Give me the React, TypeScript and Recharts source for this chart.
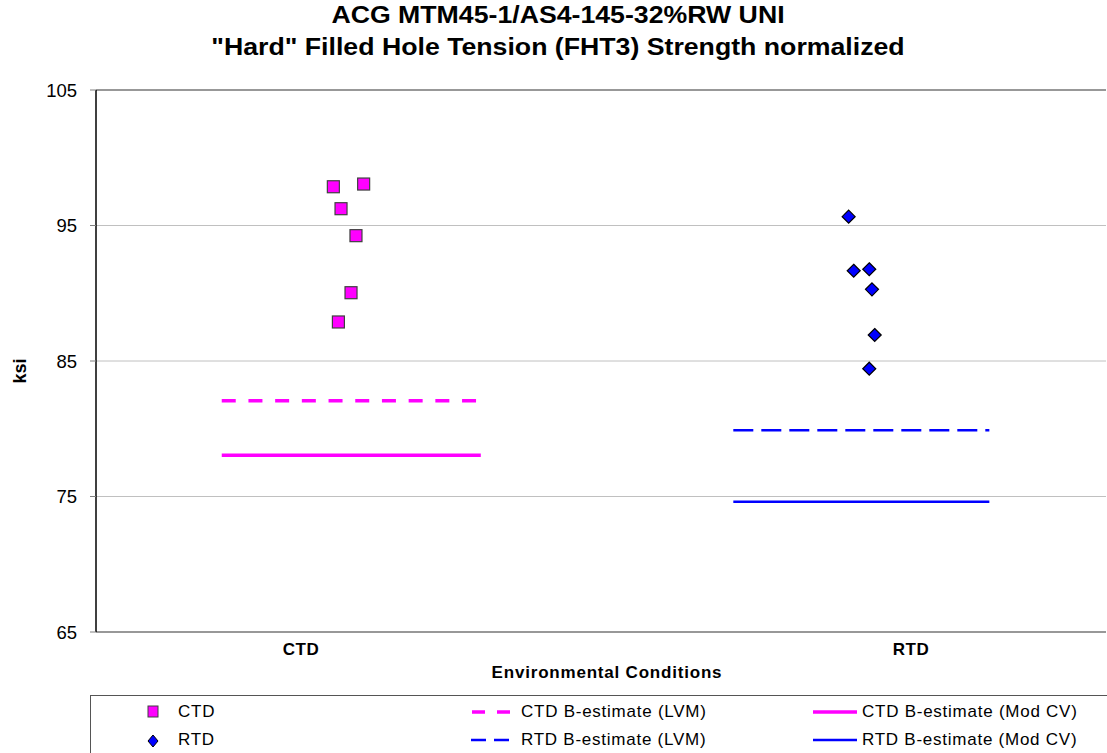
import React from "react";
import {
  ScatterChart,
  Scatter,
  XAxis,
  YAxis,
  CartesianGrid,
  ReferenceLine,
  Label,
} from "recharts";

// ---- data ----
const categories = ["CTD", "RTD"];
const categoryTicks = [20.3, 80.7];
const yTicks = [65, 75, 85, 95, 105];

const ctdX = [23.5, 26.5, 24.26, 25.74, 25.25, 24.0];
const ctdY = [97.86, 98.06, 96.24, 94.25, 90.04, 87.88];
const rtdX = [74.52, 75.02, 76.56, 76.83, 77.1, 76.56];
const rtdY = [95.65, 91.66, 91.77, 90.29, 86.92, 84.43];

const ctdLineX = [12.45, 38.1];
const rtdLineX = [63.1, 88.45];
const ctdLVM = 82.07;
const ctdModCV = 78.04;
const rtdLVM = 79.89;
const rtdModCV = 74.62;

const legendLabels = [
  "CTD",
  "RTD",
  "CTD B-estimate (LVM)",
  "RTD B-estimate (LVM)",
  "CTD B-estimate (Mod CV)",
  "RTD B-estimate (Mod CV)",
];

const MAGENTA = "#FF00FF";
const BLUE = "#0000FF";
const FONT = "'Liberation Sans', Arial, sans-serif";

const toPoints = (xs: number[], ys: number[]) => xs.map((x, i) => ({ x, y: ys[i] }));
const hLine = (xs: number[], y: number) => xs.map((x) => ({ x, y }));

const ctdData = toPoints(ctdX, ctdY);
const rtdData = toPoints(rtdX, rtdY);
const ctdLVMData = hLine(ctdLineX, ctdLVM);
const ctdModData = hLine(ctdLineX, ctdModCV);
const rtdLVMData = hLine(rtdLineX, rtdLVM);
const rtdModData = hLine(rtdLineX, rtdModCV);

const SquareShape = (props: any) => {
  const { cx, cy } = props;
  const s = 12;
  return (
    <rect x={cx - s / 2} y={cy - s / 2} width={s} height={s} fill={MAGENTA} stroke="#404040" strokeWidth={1.2} />
  );
};

const DiamondShape = (props: any) => {
  const { cx, cy } = props;
  const r = 6.5;
  return (
    <polygon
      points={`${cx},${cy - r} ${cx + r},${cy} ${cx},${cy + r} ${cx - r},${cy}`}
      fill={BLUE}
      stroke="#000"
      strokeWidth={1.2}
    />
  );
};

const NoShape = () => <g />;

const legendText: React.CSSProperties = {
  position: "absolute",
  fontFamily: FONT,
  fontSize: 17,
  letterSpacing: 0.75,
  lineHeight: "20px",
  color: "#000",
  whiteSpace: "nowrap",
};

export default function App() {
  return (
    <div
      style={{
        position: "absolute",
        left: 0,
        top: 0,
        width: 1107,
        height: 753,
        background: "#fff",
        overflow: "hidden",
      }}
    >
      <div
        style={{
          position: "absolute",
          left: 0,
          top: -1,
          width: 1116,
          textAlign: "center",
          fontFamily: FONT,
          fontWeight: "bold",
          fontSize: 23,
          lineHeight: "32px",
          transform: "scaleX(1.16)",
          transformOrigin: "558px 0",
          color: "#000",
        }}
      >
        <div>ACG MTM45-1/AS4-145-32%RW UNI</div>
        <div>"Hard" Filled Hole Tension (FHT3) Strength normalized</div>
      </div>

      <ScatterChart
        width={1107}
        height={753}
        margin={{ top: 90, right: 1, left: 0, bottom: 71 }}
      >
        <CartesianGrid horizontal vertical={false} stroke="#c0c0c0" />
        <XAxis
          type="number"
          dataKey="x"
          domain={[0, 100]}
          ticks={categoryTicks}
          tickFormatter={(v: number) => categories[categoryTicks.indexOf(v)] ?? ""}
          tickLine={false}
          tickSize={6}
          tickMargin={5}
          axisLine={{ stroke: "#808080", strokeWidth: 1.5 }}
          tick={{ fontFamily: FONT, fontSize: 17, fontWeight: "bold", fill: "#000", letterSpacing: 0.5 }}
          height={50}
          allowDataOverflow
        >
          <Label
            content={(p: any) => {
              const vb = p.viewBox || {};
              return (
                <text
                  x={(vb.x ?? 0) + (vb.width ?? 0) / 2 + 6}
                  y={678}
                  textAnchor="middle"
                  fontFamily={FONT}
                  fontSize={17}
                  fontWeight="bold"
                  letterSpacing={0.8}
                  fill="#000"
                >
                  Environmental  Conditions
                </text>
              );
            }}
          />
        </XAxis>
        <YAxis
          type="number"
          dataKey="y"
          domain={[65, 105]}
          ticks={yTicks}
          width={96}
          tickSize={6}
          tickMargin={13}
          axisLine={{ stroke: "#000", strokeWidth: 1.5 }}
          tickLine={{ stroke: "#808080" }}
          tick={{ fontFamily: FONT, fontSize: 18.5, fill: "#000" }}
          allowDataOverflow
        >
          <Label
            content={() => (
              <text
                x={20}
                y={371}
                transform="rotate(-90 20 371)"
                textAnchor="middle"
                dominantBaseline="central"
                fontFamily={FONT}
                fontSize={18}
                fontWeight="bold"
                fill="#000"
              >
                ksi
              </text>
            )}
          />
        </YAxis>
        <ReferenceLine y={105} stroke="#808080" strokeWidth={1.5} />

        <Scatter
          name="CTD B-estimate (LVM)"
          data={ctdLVMData}
          shape={NoShape}
          line={{ stroke: MAGENTA, strokeWidth: 3.5, strokeDasharray: "14 12.7" }}
          isAnimationActive={false}
        />
        <Scatter
          name="CTD B-estimate (Mod CV)"
          data={ctdModData}
          shape={NoShape}
          line={{ stroke: MAGENTA, strokeWidth: 3.5 }}
          isAnimationActive={false}
        />
        <Scatter
          name="RTD B-estimate (LVM)"
          data={rtdLVMData}
          shape={NoShape}
          line={{ stroke: BLUE, strokeWidth: 2.5, strokeDasharray: "20 8" }}
          isAnimationActive={false}
        />
        <Scatter
          name="RTD B-estimate (Mod CV)"
          data={rtdModData}
          shape={NoShape}
          line={{ stroke: BLUE, strokeWidth: 2.5 }}
          isAnimationActive={false}
        />
        <Scatter name="CTD" data={ctdData} shape={SquareShape} isAnimationActive={false} />
        <Scatter name="RTD" data={rtdData} shape={DiamondShape} isAnimationActive={false} />
      </ScatterChart>

      {/* Legend */}
      <div
        style={{
          position: "absolute",
          left: 90,
          top: 695,
          width: 1100,
          height: 100,
          border: "1px solid #555",
          boxSizing: "border-box",
        }}
      />
      <svg style={{ position: "absolute", left: 0, top: 0 }} width={1107} height={753} pointerEvents="none">
        <rect x={148} y={706} width={10} height={11} fill={MAGENTA} stroke="#404040" strokeWidth={1} />
        <polygon points="153,735 158,741 153,747 148,741" fill={BLUE} stroke="#000" strokeWidth={1} />
        <line x1={472} y1={712} x2={510} y2={712} stroke={MAGENTA} strokeWidth={3.5} strokeDasharray="13 12" />
        <line x1={471} y1={740} x2={512} y2={740} stroke={BLUE} strokeWidth={2.5} strokeDasharray="15 8" />
        <line x1={813} y1={712} x2={857} y2={712} stroke={MAGENTA} strokeWidth={3.5} />
        <line x1={813} y1={740} x2={857} y2={740} stroke={BLUE} strokeWidth={2.5} />
      </svg>
      <span style={{ ...legendText, left: 178, top: 702 }}>{legendLabels[0]}</span>
      <span style={{ ...legendText, left: 178, top: 730 }}>{legendLabels[1]}</span>
      <span style={{ ...legendText, left: 521, top: 702 }}>{legendLabels[2]}</span>
      <span style={{ ...legendText, left: 521, top: 730 }}>{legendLabels[3]}</span>
      <span style={{ ...legendText, left: 862, top: 702 }}>{legendLabels[4]}</span>
      <span style={{ ...legendText, left: 862, top: 730 }}>{legendLabels[5]}</span>
    </div>
  );
}
